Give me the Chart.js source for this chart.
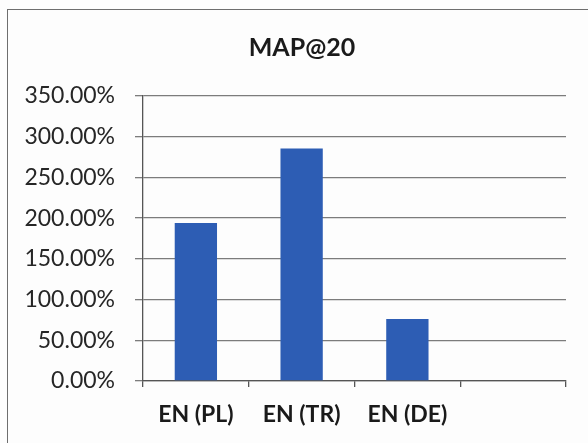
<!DOCTYPE html>
<html>
<head>
<meta charset="utf-8">
<script src="https://cdn.jsdelivr.net/npm/chart.js@4.4.1/dist/chart.umd.min.js"></script>
<style>
  html, body { margin: 0; padding: 0; background: #fdfdfd; }
  #wrap { position: relative; width: 588px; height: 443px; overflow: hidden; }
  #frame { position: absolute; left: 7px; top: 9px; width: 700px; height: 600px;
           border-left: 1px solid #6e6e6e; border-top: 1px solid #6e6e6e; }
  canvas { position: absolute; left: 0; top: 0; }
</style>
</head>
<body>
<div id="wrap">
  <div id="frame"></div>
  <canvas id="chart" width="588" height="443"></canvas>
</div>
<script>
// Categories, values (as fractions) and axis settings
const categories = ['EN (PL)', 'EN (TR)', 'EN (DE)', ''];
const mapAt20 = [1.94, 2.855, 0.76, null];
const chartTitle = 'MAP@20';
const yMin = 0;
const yMax = 3.5;
const yStep = 0.5;

const fontFamily = 'Lato, "Open Sans", sans-serif';

// Title drawn centred over the frame
const titlePlugin = {
  id: 'frameTitle',
  afterDraw(chart) {
    const ctx = chart.ctx;
    ctx.save();
    ctx.font = 'bold 25px ' + fontFamily;
    ctx.fillStyle = '#1a1a1a';
    ctx.textAlign = 'center';
    ctx.textBaseline = 'alphabetic';
    ctx.fillText(chartTitle, 302, 56);
    ctx.restore();
  }
};

new Chart(document.getElementById('chart'), {
  type: 'bar',
  data: {
    labels: categories,
    datasets: [{
      data: mapAt20,
      backgroundColor: '#2d5db4',
      borderWidth: 0,
      categoryPercentage: 1,
      barPercentage: 0.4
    }]
  },
  options: {
    responsive: false,
    animation: false,
    layout: { padding: { top: 96, right: 22, left: 0, bottom: 0 } },
    plugins: { legend: { display: false }, tooltip: { enabled: false }, title: { display: false } },
    scales: {
      x: {
        offset: true,
        grid: { offset: true, drawOnChartArea: false, drawTicks: true, tickLength: 6, color: '#555', lineWidth: 1.3 },
        border: { color: '#555', width: 1.3 },
        ticks: { color: '#1a1a1a', font: { family: fontFamily, size: 23, weight: 'bold' }, padding: 14, maxRotation: 0 },
        afterFit(scale) { scale.height = 62; }
      },
      y: {
        min: yMin,
        max: yMax,
        grid: { color: '#7c7c7c', lineWidth: 1.3, tickLength: 8 },
        border: { color: '#555', width: 1.3 },
        ticks: {
          stepSize: yStep,
          color: '#262626',
          font: { family: fontFamily, size: 23 },
          padding: 20,
          callback: v => (v * 100).toFixed(2) + '%'
        },
        afterFit(scale) { scale.width = 143; }
      }
    }
  },
  plugins: [titlePlugin]
});
</script>
</body>
</html>
